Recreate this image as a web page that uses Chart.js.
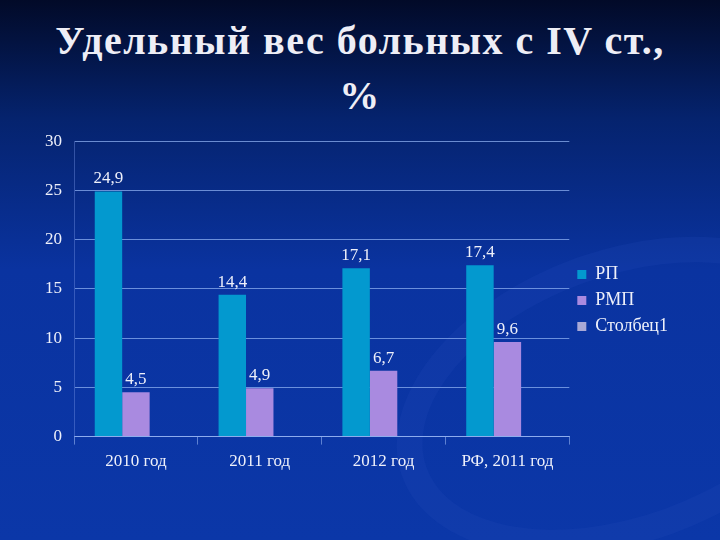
<!DOCTYPE html>
<html>
<head>
<meta charset="utf-8">
<script src="https://cdn.jsdelivr.net/npm/chart.js@4"></script>
<style>
  html, body { margin: 0; padding: 0; }
  body {
    width: 720px; height: 540px; overflow: hidden; position: relative;
    background: linear-gradient(180deg, #020a28 0%, #05236e 22%, #0a33a0 50%, #0b37a8 100%);
    font-family: 'Liberation Serif';
  }
  .swirl {
    position: absolute; right: -140px; top: 250px; width: 420px; height: 240px;
    border-radius: 50%; border: 26px solid rgba(40, 80, 190, 0.18);
    transform: rotate(-20deg);
  }
  .title {
    position: absolute; left: 0; width: 720px; text-align: center;
    color: #eeeef6; font-family: 'Liberation Serif'; font-weight: bold;
    font-size: 40px; line-height: 1; letter-spacing: 1.5px;
  }
  #wrap { position: absolute; left: 0; top: 119px; width: 720px; height: 360px; }
</style>
</head>
<body>
<div class="swirl"></div>
<div class="title" style="top:21px">Удельный вес больных с IV ст.,</div>
<div class="title" style="top:76px">%</div>
<div id="wrap"><canvas id="chart"></canvas></div>
<script>
const categories = ['2010 год', '2011 год', '2012 год', 'РФ, 2011 год'];
const rpValues = [24.9, 14.4, 17.1, 17.4];
const rmpValues = [4.5, 4.9, 6.7, 9.6];
const col1Values = [null, null, null, null];
const yTicks = [0, 5, 10, 15, 20, 25, 30];

const serif = "'Liberation Serif'";

// value labels above bars, comma as decimal separator
const barLabels = {
    id: 'barLabels',
    afterDatasetsDraw(chart) {
        const ctx = chart.ctx;
        ctx.save();
        ctx.font = '17px ' + serif;
        ctx.fillStyle = '#eef0fa';
        ctx.textAlign = 'center';
        ctx.textBaseline = 'bottom';
        chart.data.datasets.forEach((ds, i) => {
            const meta = chart.getDatasetMeta(i);
            meta.data.forEach((bar, j) => {
                const v = ds.data[j];
                if (v === null || v === undefined) return;
                ctx.fillText(v.toFixed(1).replace('.', ','), bar.x, bar.y - 4);
            });
        });
        ctx.restore();
    }
};

new Chart(document.getElementById('chart'), {
    type: 'bar',
    data: {
        labels: categories,
        datasets: [
            { label: 'РП', data: rpValues, backgroundColor: '#0399cf' },
            { label: 'РМП', data: rmpValues, backgroundColor: '#a98ae0' },
            { label: 'Столбец1', data: col1Values, backgroundColor: '#a9a9d6' }
        ]
    },
    options: {
        responsive: true,
        maintainAspectRatio: false,
        animation: false,
        categoryPercentage: 0.665,
        barPercentage: 1,
        layout: { padding: { left: 39, right: 42, top: 3, bottom: 0 } },
        plugins: {
            legend: {
                position: 'right',
                labels: {
                    color: '#eef0fa',
                    font: { family: serif, size: 18 },
                    boxWidth: 9, boxHeight: 9, padding: 8
                }
            },
            tooltip: { enabled: false }
        },
        scales: {
            x: {
                grid: { display: true, drawOnChartArea: false, offset: true, tickLength: 8, color: 'rgba(150,180,240,0.6)' },
                border: { color: 'rgba(150,180,240,0.8)' },
                ticks: { color: '#eef0fa', font: { family: serif, size: 17 }, padding: 7 }
            },
            y: {
                min: 0, max: 30,
                afterBuildTicks: s => { s.ticks = yTicks.map(v => ({ value: v })); },
                afterFit: s => { s.width = 35; },
                grid: { color: 'rgba(140,175,240,0.75)', drawTicks: false },
                border: { display: true, color: 'rgba(120,150,230,0.4)' },
                ticks: { color: '#eef0fa', font: { family: serif, size: 17 }, padding: 12 }
            }
        }
    },
    plugins: [barLabels]
});
</script>
</body>
</html>
